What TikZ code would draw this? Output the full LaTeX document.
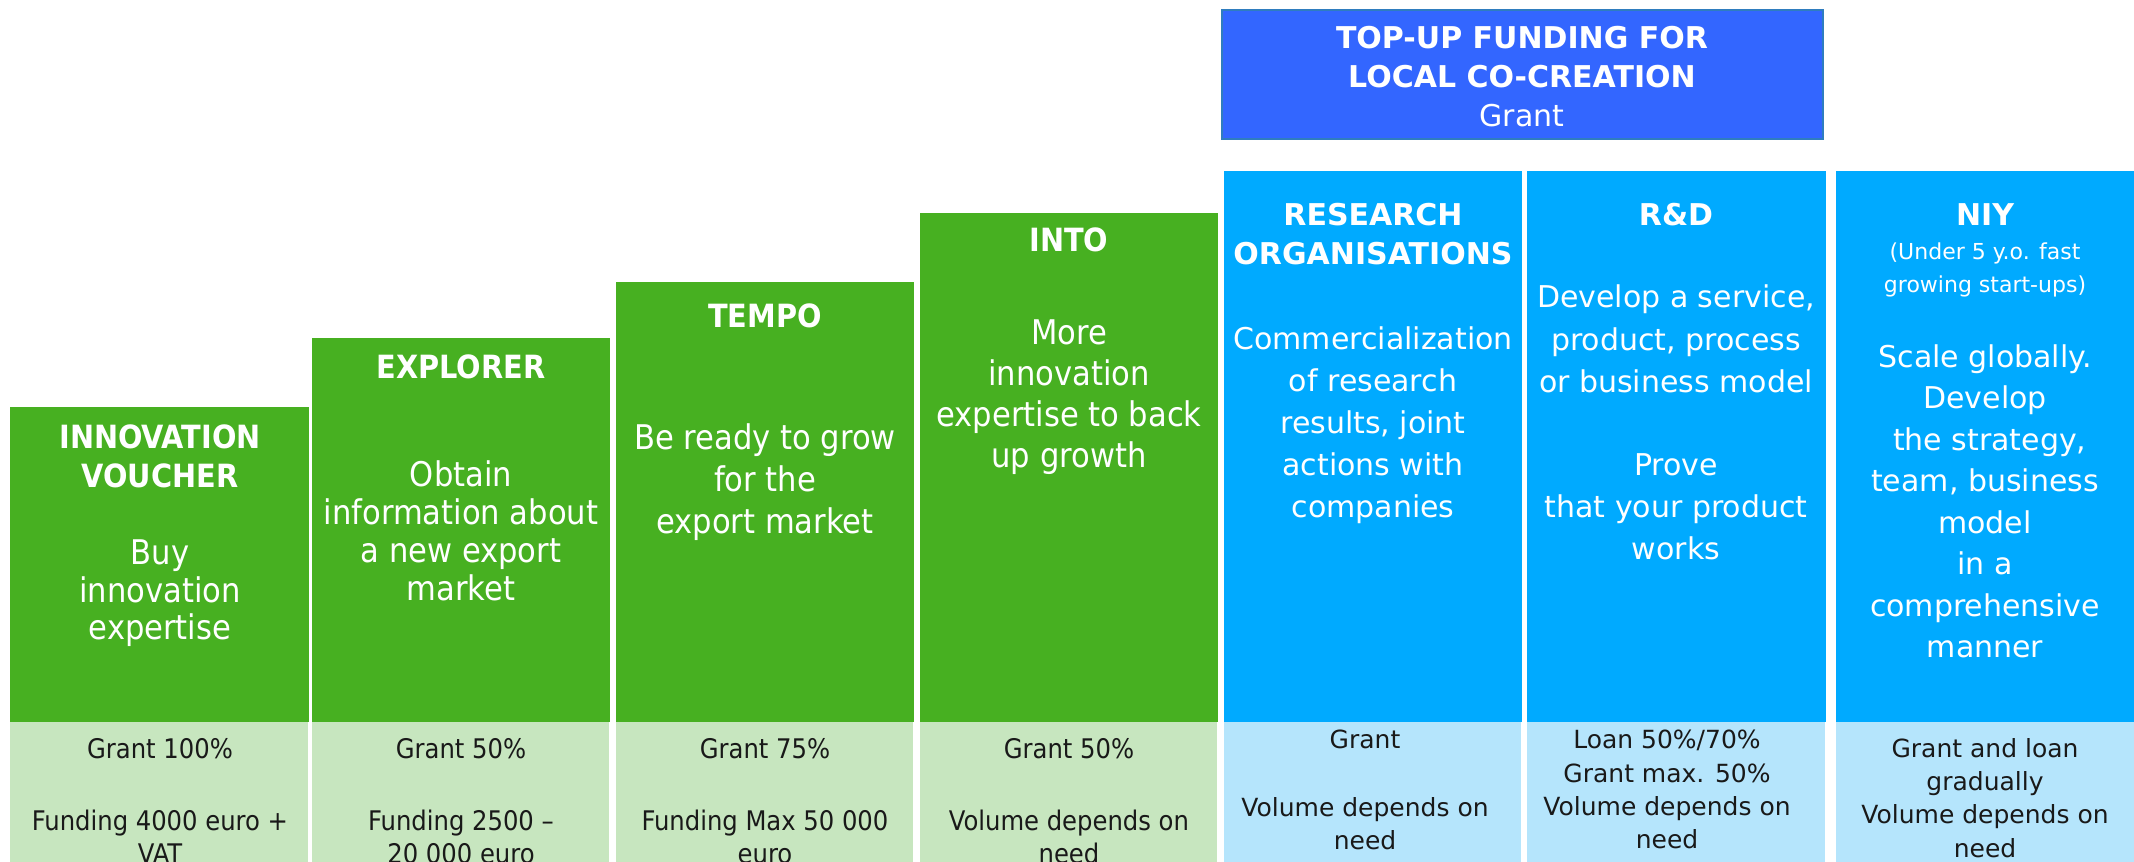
\documentclass[tikz,border=0pt]{standalone}
\usepackage{fontspec}
\setmainfont{DejaVu Sans}
\newfontfamily\condfont{DejaVu Sans Condensed}

\definecolor{stepgreen}{HTML}{47B021}
\definecolor{notegreen}{HTML}{C7E6BF}
\definecolor{stepblue}{HTML}{00AAFF}
\definecolor{noteblue}{HTML}{B5E5FC}
\definecolor{topblue}{HTML}{3366FF}
\definecolor{topedge}{HTML}{2F7DBF}

\tikzset{
  gtitle/.style={anchor=north,inner sep=0pt,align=center,text=white,
    font=\condfont\bfseries\fontsize{32}{#1}\selectfont},
  gbody/.style={anchor=north,inner sep=0pt,align=center,text=white,
    font=\condfont\fontsize{34}{#1}\selectfont},
  gnote/.style={anchor=north,inner sep=0pt,align=center,text=black!90,
    font=\condfont\fontsize{27}{33}\selectfont},
  btitle/.style={anchor=north,inner sep=0pt,align=center,text=white,
    font=\bfseries\fontsize{30}{#1}\selectfont},
  bbody/.style={anchor=north,inner sep=0pt,align=center,text=white,
    font=\fontsize{30}{#1}\selectfont},
  bsub/.style={anchor=north,inner sep=0pt,align=center,text=white,
    font=\fontsize{22}{33}\selectfont},
  bnote/.style={anchor=north,inner sep=0pt,align=center,text=black!90,
    font=\fontsize{25}{33.3}\selectfont},
}

\begin{document}
\begin{tikzpicture}[x=1pt,y=-1pt]
  \useasboundingbox (0,0) rectangle (2134,862);
  \clip (0,0) rectangle (2134,862);

  %% Green steps
  \fill[stepgreen] (10,407) rectangle (309,722);
  \fill[stepgreen] (312,338) rectangle (610,722);
  \fill[stepgreen] (616,282) rectangle (914,722);
  \fill[stepgreen] (920,213) rectangle (1218,722);
  \fill[notegreen] (10,722) rectangle (308,862);
  \fill[notegreen] (312,722) rectangle (609,862);
  \fill[notegreen] (616,722) rectangle (913,862);
  \fill[notegreen] (920,722) rectangle (1217,862);

  %% Blue columns
  \fill[topblue,draw=topedge,line width=2pt] (1222,10) rectangle (1823,139);
  \fill[stepblue] (1224,171) rectangle (1522,722);
  \fill[stepblue] (1527,171) rectangle (1826,722);
  \fill[stepblue] (1836,171) rectangle (2134,722);
  \fill[noteblue] (1224,722) rectangle (1521,862);
  \fill[noteblue] (1527,722) rectangle (1825,862);
  \fill[noteblue] (1836,722) rectangle (2134,862);

  \node [gtitle=39] (ivtitle) at (160,425) {INNOVATION\\VOUCHER};
  \node [gbody=37.5] (ivbody) at (160,540) {Buy\\innovation\\expertise};
  \node [gnote] (ivnote) at (160,738) {Grant 100\%\\[39pt]Funding 4000 euro +\\VAT};

  \node [gtitle=39] (extitle) at (461,355) {EXPLORER};
  \node [gbody=38] (exbody) at (461,460) {Obtain\\information about\\a new export\\market};
  \node [gnote] (exnote) at (461,738) {Grant 50\%\\[39pt]Funding 2500 –\\20 000 euro};

  \node [gtitle=39] (tetitle) at (765,304) {TEMPO};
  \node [gbody=42] (tebody) at (765,423) {Be ready to grow\\for the\\export market};
  \node [gnote] (tenote) at (765,738) {Grant 75\%\\[39pt]Funding Max 50 000\\euro};

  \node [gtitle=39] (intitle) at (1069,228) {INTO};
  \node [gbody=41] (inbody) at (1069,320) {More\\innovation\\expertise to back\\up growth};
  \node [gnote] (innote) at (1069,738) {Grant 50\%\\[39pt]Volume depends on\\need};

  %% Top-up header
  \node [bbody=39] (toptitle) at (1522,26) {\textbf{TOP-UP FUNDING FOR}\\\textbf{LOCAL CO-CREATION}\\Grant};

  \node [btitle=39] (retitle) at (1373,203) {RESEARCH\\ORGANISATIONS};
  \node [bbody=42] (rebody) at (1373,327) {Commercialization\\of research\\results, joint\\actions with\\companies};
  \node [bnote] (renote) at (1365,730) {Grant\\[34pt]Volume depends on\\need};

  \node [btitle=39] (rdtitle) at (1676,203) {R\&D};
  \node [bbody=42] (rdbody) at (1676,285) {Develop a service,\\product, process\\or business model\\[42pt]Prove\\that your product\\works};
  \node [bnote] (rdnote) at (1667,730) {Loan 50\%/70\%\\Grant max. 50\%\\Volume depends on\\need};

  \node [btitle=39] (nititle) at (1985,203) {NIY};
  \node [bsub] (nisub) at (1985,243) {(Under 5 y.o. fast\\growing start-ups)};
  \node [bbody=41.5] (nibody) at (1985,344) {Scale globally.\\Develop\\\ the strategy,\\team, business\\model\\in a\\comprehensive\\manner};
  \node [bnote] (ninote) at (1985,738) {Grant and loan\\gradually\\Volume depends on\\need};

\end{tikzpicture}
\end{document}
